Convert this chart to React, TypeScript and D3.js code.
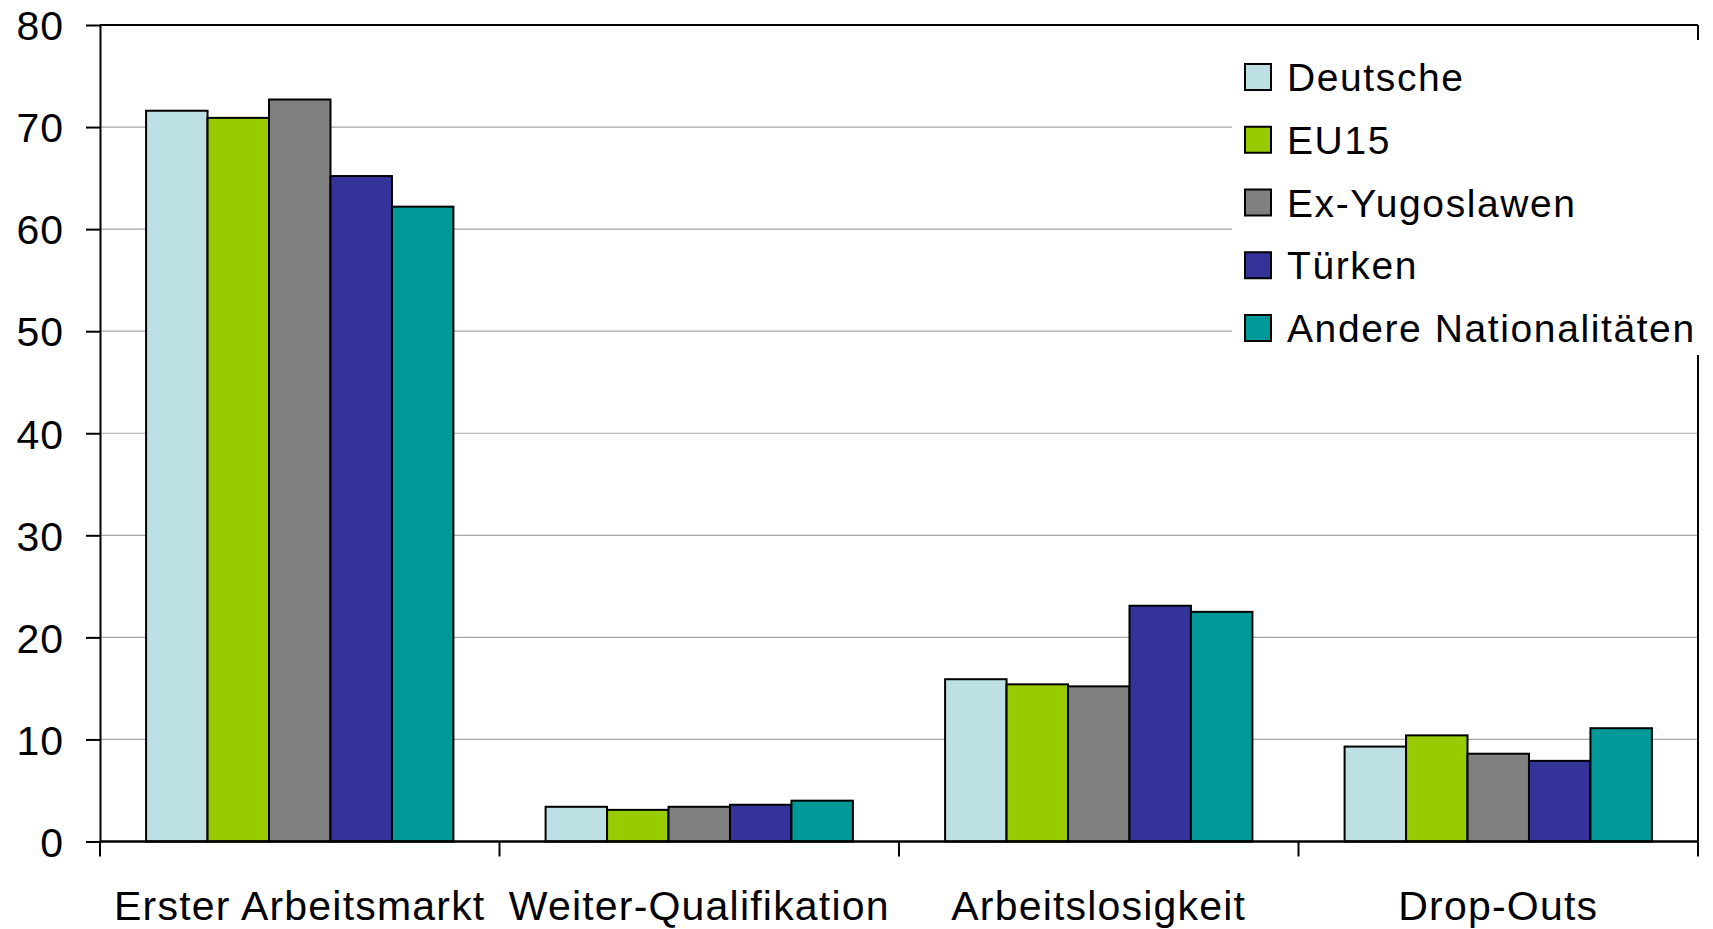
import React, { useRef, useEffect } from 'react';
import * as d3 from 'd3';

const categories = ['Erster Arbeitsmarkt', 'Weiter-Qualifikation', 'Arbeitslosigkeit', 'Drop-Outs'];
const seriesNames = ['Deutsche', 'EU15', 'Ex-Yugoslawen', 'Türken', 'Andere Nationalitäten'];
const seriesColors = ['#bce0e3', '#99cc00', '#808080', '#333399', '#009999'];

const deutsche = [71.6, 3.4, 15.9, 9.3];
const eu15 = [70.9, 3.1, 15.4, 10.4];
const exYugo = [72.7, 3.4, 15.2, 8.6];
const tuerken = [65.2, 3.6, 23.1, 7.9];
const andere = [62.2, 4.0, 22.5, 11.1];
const seriesValues = [deutsche, eu15, exYugo, tuerken, andere];

const yTicks = [0, 10, 20, 30, 40, 50, 60, 70, 80];

const W = 1713;
const H = 929;
const FONT = '"Liberation Sans", Arial, sans-serif';

const App: React.FC = () => {
  const svgRef = useRef<SVGSVGElement | null>(null);

  useEffect(() => {
    const svg = d3.select(svgRef.current);
    svg.selectAll('*').remove();

    const left = 100, right = 1698, top = 25, bottom = 841.5;

    const x = d3.scaleBand().domain(categories).range([left, right]).paddingInner(0).paddingOuter(0);
    const xs = d3.scaleBand().domain(seriesNames).range([0, x.bandwidth()]).paddingInner(0).paddingOuter(0.75);
    const y = d3.scaleLinear().domain([0, 80]).range([bottom, top]);

    // gridlines
    svg.append('g')
      .selectAll('line')
      .data(yTicks.filter(d => d > 0 && d < 80))
      .enter()
      .append('line')
      .attr('x1', left).attr('x2', right)
      .attr('y1', d => y(d)).attr('y2', d => y(d))
      .attr('stroke', '#a6a6a6')
      .attr('stroke-width', 1.2);

    // bars
    seriesValues.forEach((vals, si) => {
      svg.append('g')
        .selectAll('rect')
        .data(vals)
        .enter()
        .append('rect')
        .attr('x', (d, i) => x(categories[i])! + xs(seriesNames[si])!)
        .attr('y', d => y(d))
        .attr('width', xs.bandwidth())
        .attr('height', d => bottom - y(d))
        .attr('fill', seriesColors[si])
        .attr('stroke', '#000')
        .attr('stroke-width', 2);
    });

    // frame: top and right border
    svg.append('line').attr('x1', left).attr('x2', right).attr('y1', top).attr('y2', top)
      .attr('stroke', '#000').attr('stroke-width', 2);
    svg.append('line').attr('x1', right).attr('x2', right).attr('y1', top).attr('y2', bottom)
      .attr('stroke', '#000').attr('stroke-width', 2);

    // y axis
    const yAxis = d3.axisLeft(y).tickValues(yTicks).tickSize(14).tickPadding(22).tickSizeOuter(0);
    const gy = svg.append('g').attr('transform', `translate(${left},0)`).call(yAxis);
    gy.select('.domain').attr('stroke', '#000').attr('stroke-width', 2);
    gy.selectAll('.tick line').attr('stroke', '#000').attr('stroke-width', 2);
    gy.selectAll('.tick text')
      .attr('font-family', FONT)
      .attr('font-size', 41)
      .attr('letter-spacing', 1)
      .attr('fill', '#000')
      .attr('dy', '0.36em');

    // x axis
    const xTickPos = [...categories.map(c => x(c)!), right];
    const gx = svg.append('g');
    gx.append('line').attr('x1', left).attr('x2', right).attr('y1', bottom).attr('y2', bottom)
      .attr('stroke', '#000').attr('stroke-width', 2.5);
    gx.selectAll('line.tk')
      .data(xTickPos)
      .enter()
      .append('line')
      .attr('class', 'tk')
      .attr('x1', d => d).attr('x2', d => d)
      .attr('y1', bottom).attr('y2', bottom + 15)
      .attr('stroke', '#000').attr('stroke-width', 2);
    gx.selectAll('text')
      .data(categories)
      .enter()
      .append('text')
      .attr('x', d => x(d)! + x.bandwidth() / 2)
      .attr('y', 920)
      .attr('text-anchor', 'middle')
      .attr('font-family', FONT)
      .attr('font-size', 41)
      .attr('letter-spacing', 1.2)
      .attr('fill', '#000')
      .text(d => d);

    // legend
    const lg = svg.append('g');
    lg.append('rect').attr('x', 1232).attr('y', 40).attr('width', 475).attr('height', 315).attr('fill', '#fff');
    const rowY = d3.scaleLinear().domain([0, 4]).range([77, 328]);
    seriesNames.forEach((name, i) => {
      lg.append('rect')
        .attr('x', 1245).attr('y', rowY(i) - 13)
        .attr('width', 26).attr('height', 26)
        .attr('fill', seriesColors[i])
        .attr('stroke', '#000').attr('stroke-width', 2);
      lg.append('text')
        .attr('x', 1287).attr('y', rowY(i))
        .attr('dy', '0.36em')
        .attr('font-family', FONT)
        .attr('font-size', 39)
        .attr('letter-spacing', 1.6)
        .attr('fill', '#000')
        .text(name);
    });
  }, []);

  return (
    <svg
      ref={svgRef}
      width={W}
      height={H}
      style={{ position: 'absolute', left: 0, top: 0, background: '#fff', display: 'block' }}
    />
  );
};

export default App;
